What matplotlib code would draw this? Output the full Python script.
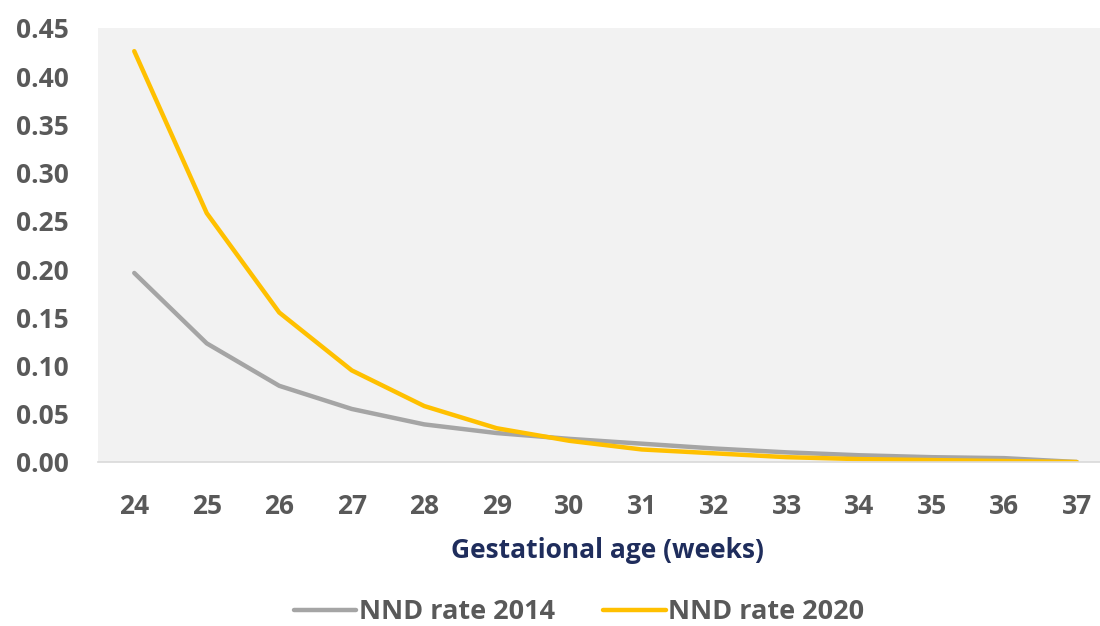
import matplotlib
matplotlib.use("Agg")
import matplotlib.pyplot as plt

weeks = [24, 25, 26, 27, 28, 29, 30, 31, 32, 33, 34, 35, 36, 37]
nnd_2014 = [0.196, 0.123, 0.079, 0.055, 0.039, 0.030, 0.024, 0.019, 0.014, 0.010, 0.007, 0.005, 0.004, 0.000]
nnd_2020 = [0.426, 0.258, 0.155, 0.095, 0.058, 0.035, 0.022, 0.013, 0.009, 0.005, 0.003, 0.002, 0.001, 0.000]
yticks = [0.00, 0.05, 0.10, 0.15, 0.20, 0.25, 0.30, 0.35, 0.40, 0.45]

plt.rcParams['font.family'] = ['Open Sans', 'DejaVu Sans']

W, H = 1100, 626
fig = plt.figure(figsize=(W / 100, H / 100), dpi=100)
left, right, top, bottom = 98, 1113, 28, 462
ax = fig.add_axes([left / W, 1 - bottom / H, (right - left) / W, (bottom - top) / H])
ax.set_facecolor('#F2F2F2')

ax.plot(weeks, nnd_2014, color='#A5A5A5', lw=3.2, label='NND rate 2014', solid_capstyle='round')
ax.plot(weeks, nnd_2020, color='#FFC000', lw=3.2, label='NND rate 2020', solid_capstyle='round')

ax.set_xlim(23.5, 37.5)
ax.set_ylim(0, 0.45)
ax.set_xticks(weeks)
ax.set_yticks(yticks)
ax.set_yticklabels([f"{v:.2f}" for v in yticks])
for s in ['top', 'right', 'left']:
    ax.spines[s].set_visible(False)
ax.spines['bottom'].set_color('#D9D9D9')
ax.spines['bottom'].set_linewidth(1.2)
ax.tick_params(axis='both', length=0, labelsize=19, labelcolor='#595959')
ax.tick_params(axis='y', pad=21)
ax.tick_params(axis='x', pad=22)
for lab in ax.get_xticklabels() + ax.get_yticklabels():
    lab.set_fontweight('bold')

fig.text(607 / W, 1 - 551 / H, 'Gestational age (weeks)', ha='center', va='center',
         fontsize=19, fontweight='bold', color='#1F2D5C')

leg = fig.legend(loc='center', bbox_to_anchor=(579 / W, 1 - 612 / H), ncol=2, frameon=False,
                 fontsize=19.5, handlelength=2.3, columnspacing=1.8, handletextpad=0.1)
for t in leg.get_texts():
    t.set_color('#595959')
    t.set_fontweight('bold')

fig.savefig('out.png', dpi=100)
